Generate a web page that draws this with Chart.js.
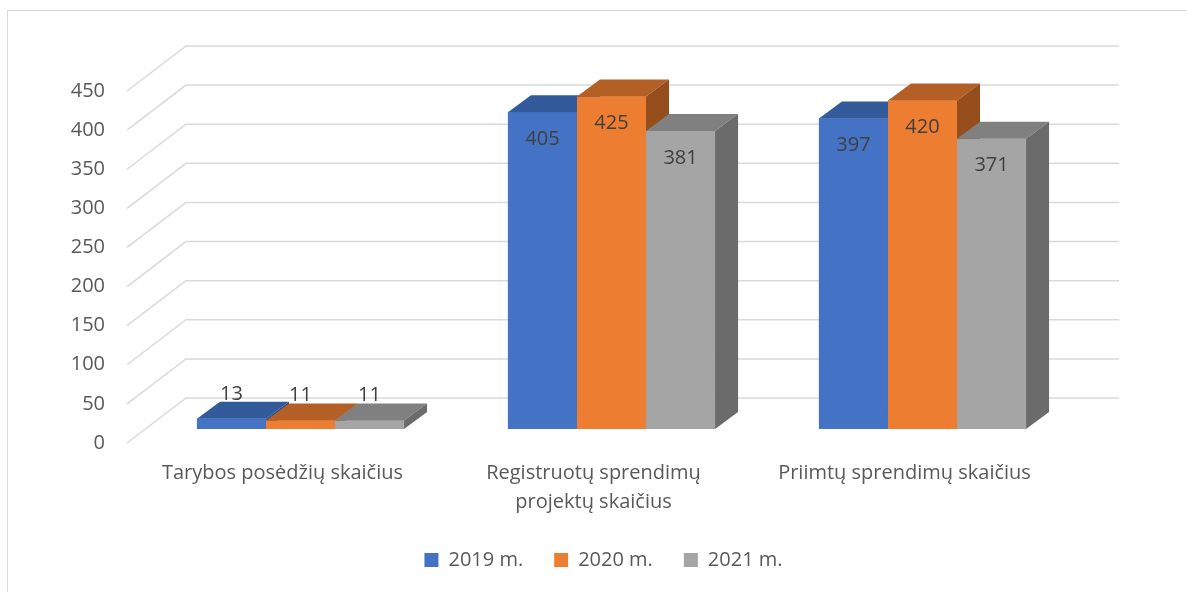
<!DOCTYPE html>
<html lang="lt">

<head>
  <meta charset="UTF-8">
  <title>Tarybos veikla 2019-2021</title>
  <script src="https://cdn.jsdelivr.net/npm/chart.js@4.4.0/dist/chart.umd.min.js"></script>
  <style>
    html, body {
      margin: 0;
      padding: 0;
      background: #fff;
    }
  </style>
</head>

<body>
  <canvas id="reportChart" width="1187" height="592"></canvas>

  <script>
    // chart data
    const categories = [
      'Tarybos posėdžių skaičius',
      ['Registruotų sprendimų', 'projektų skaičius'],
      'Priimtų sprendimų skaičius'
    ];
    const seriesNames = ['2019 m.', '2020 m.', '2021 m.'];
    const values2019 = [13, 405, 397];
    const values2020 = [11, 425, 420];
    const values2021 = [11, 381, 371];
    const yMax = 450;
    const yStep = 50;

    // face colours: front, top, side
    const frontColors = ['#4472c4', '#ed7d31', '#a5a5a5'];
    const topColors = ['#335a9b', '#b45f25', '#808080'];
    const sideColors = ['#2c4f87', '#964d1c', '#6b6b6b'];

    const textColor = '#595959';
    const fontFamily = "'Open Sans', sans-serif";

    // 3d offsets (px) relative to the plane of the bar fronts
    const FRONT_DX = -18, FRONT_DY = 14;
    const BACK_DX = 41, BACK_DY = -31;
    const BAR_DX = 23, BAR_DY = -17;

    const bar3d = {
      id: 'bar3d',
      beforeDraw(chart) {
        const ctx = chart.ctx;
        ctx.save();
        ctx.strokeStyle = '#d9d9d9';
        ctx.lineWidth = 1;
        ctx.strokeRect(7.5, 10.5, 1400, 800);
        ctx.restore();
        // legend is centred a bit left of the plot area in the original
        chart.legend.left -= 8;
        chart.legend.right -= 8;
      },
      afterDraw(chart) {
        chart.legend.left += 8;
        chart.legend.right += 8;
      },
      beforeDatasetsDraw(chart) {
        const ctx = chart.ctx;
        const y = chart.scales.y;
        const area = chart.chartArea;
        ctx.save();
        ctx.strokeStyle = '#d9d9d9';
        ctx.lineWidth = 1.5;
        y.ticks.forEach(t => {
          const py = y.getPixelForValue(t.value);
          ctx.beginPath();
          ctx.moveTo(area.left + FRONT_DX, py + FRONT_DY);
          ctx.lineTo(area.left + BACK_DX, py + BACK_DY);
          ctx.lineTo(area.right + BACK_DX, py + BACK_DY);
          ctx.stroke();
        });
        ctx.restore();
      },
      afterDatasetsDraw(chart) {
        const ctx = chart.ctx;
        ctx.save();
        categories.forEach((c, j) => {
          chart.data.datasets.forEach((ds, i) => {
            const el = chart.getDatasetMeta(i).data[j];
            const left = el.x - el.width / 2;
            const right = el.x + el.width / 2;
            const top = el.y;
            const base = el.base;

            ctx.fillStyle = frontColors[i];
            ctx.fillRect(left, top, right - left, base - top);

            ctx.fillStyle = topColors[i];
            ctx.beginPath();
            ctx.moveTo(left, top);
            ctx.lineTo(left + BAR_DX, top + BAR_DY);
            ctx.lineTo(right + BAR_DX, top + BAR_DY);
            ctx.lineTo(right, top);
            ctx.closePath();
            ctx.fill();

            ctx.fillStyle = sideColors[i];
            ctx.beginPath();
            ctx.moveTo(right, top);
            ctx.lineTo(right + BAR_DX, top + BAR_DY);
            ctx.lineTo(right + BAR_DX, base + BAR_DY);
            ctx.lineTo(right, base);
            ctx.closePath();
            ctx.fill();
          });
        });

        // value labels
        ctx.fillStyle = '#404040';
        ctx.font = '20px ' + fontFamily;
        ctx.textAlign = 'center';
        ctx.textBaseline = 'middle';
        chart.data.datasets.forEach((ds, i) => {
          chart.getDatasetMeta(i).data.forEach((el, j) => {
            const h = el.base - el.y;
            const ly = h < 30 ? el.y - 25 : el.y + 27;
            ctx.fillText(String(ds.data[j]), el.x, ly);
          });
        });
        ctx.restore();
      }
    };

    new Chart(document.getElementById('reportChart'), {
      type: 'bar',
      data: {
        labels: categories,
        datasets: [
          { label: seriesNames[0], data: values2019, backgroundColor: frontColors[0] },
          { label: seriesNames[1], data: values2020, backgroundColor: frontColors[1] },
          { label: seriesNames[2], data: values2021, backgroundColor: frontColors[2] }
        ]
      },
      options: {
        responsive: false,
        animation: false,
        devicePixelRatio: 1,
        datasets: {
          bar: { categoryPercentage: 0.666, barPercentage: 1 }
        },
        layout: {
          padding: { left: 0, right: 109, top: 77, bottom: 12 }
        },
        plugins: {
          tooltip: { enabled: false },
          legend: {
            position: 'bottom',
            fullSize: false,
            labels: {
              boxWidth: 14,
              boxHeight: 14,
              padding: 31,
              color: textColor,
              font: { family: fontFamily, size: 20 }
            }
          }
        },
        scales: {
          x: {
            grid: { display: false, drawTicks: false },
            border: { display: false },
            afterFit(scale) { scale.height = 90; },
            ticks: {
              color: textColor,
              font: { family: fontFamily, size: 20, lineHeight: 1.45 },
              padding: 30,
              labelOffset: FRONT_DX,
              maxRotation: 0,
              autoSkip: false
            }
          },
          y: {
            min: 0,
            max: yMax,
            grid: { display: false, drawTicks: false },
            border: { display: false },
            afterFit(scale) { scale.width = 145; },
            ticks: {
              stepSize: yStep,
              color: textColor,
              font: { family: fontFamily, size: 20 },
              padding: 40,
              labelOffset: FRONT_DY
            }
          }
        }
      },
      plugins: [bar3d]
    });
  </script>
</body>

</html>
